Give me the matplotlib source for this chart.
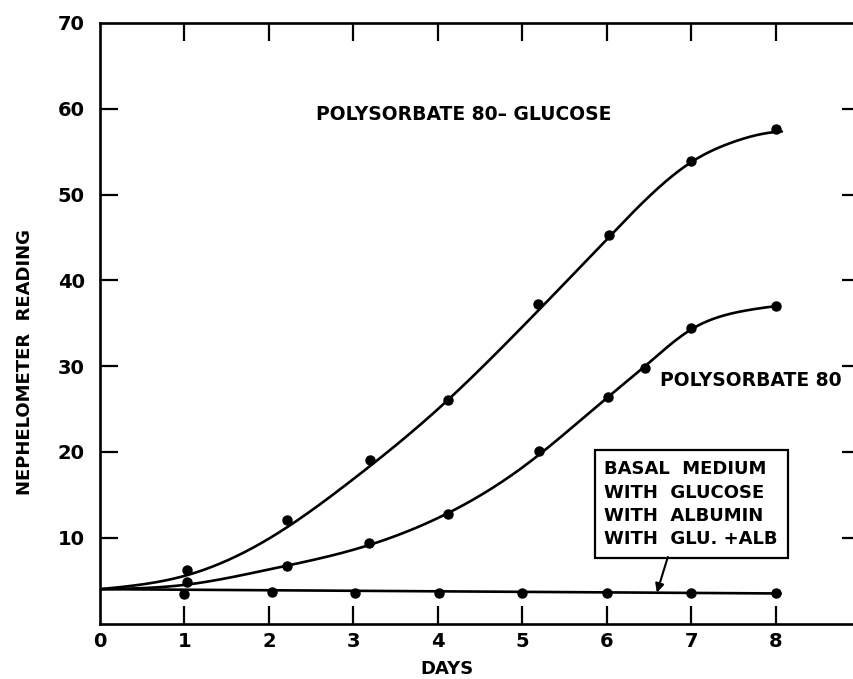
import numpy as np
import matplotlib
matplotlib.use("Agg")
import matplotlib.pyplot as plt

# ---- data ----
glu_days = [1.03, 2.21, 3.2, 4.12, 5.18, 6.02, 7.0, 8.0]
glu_vals = [6.2, 12.1, 19.1, 26.1, 37.3, 45.3, 53.9, 57.6]

ps_days = [1.03, 2.21, 3.18, 4.12, 5.2, 6.01, 6.45, 7.0, 8.0]
ps_vals = [4.8, 6.7, 9.35, 12.8, 20.1, 26.4, 29.8, 34.5, 37.0]

basal_days = [1.0, 2.03, 3.02, 4.01, 5.0, 6.0, 7.0, 8.0]
basal_vals = [3.4, 3.65, 3.5, 3.55, 3.55, 3.55, 3.55, 3.5]

# fitted curves as drawn
glu_curve_days = [0, 1, 2, 3, 4, 5, 6, 7, 7.5, 8.0, 8.07]
glu_curve = [4.0, 5.55, 9.9, 16.85, 25.0, 34.6, 44.8, 53.8, 56.15, 57.3, 57.35]
ps_curve_days = [0, 1, 2, 3, 4, 5, 6, 6.45, 7, 7.5, 8.0]
ps_curve = [4.0, 4.5, 6.3, 8.6, 12.3, 18.2, 26.3, 30.0, 34.3, 36.2, 37.0]
basal_line_days = [0, 8.05]
basal_line = [4.0, 3.5]

xticks = [0, 1, 2, 3, 4, 5, 6, 7, 8]
xticklabels = ["0", "1", "2", "3", "4", "5", "6", "7", "8"]
yticks = [10, 20, 30, 40, 50, 60, 70]
yticklabels = ["10", "20", "30", "40", "50", "60", "70"]


def natural_spline(x, y, n=500):
    x = np.asarray(x, float)
    y = np.asarray(y, float)
    m = len(x)
    h = np.diff(x)
    A = np.zeros((m, m))
    b = np.zeros(m)
    A[0, 0] = 1
    A[-1, -1] = 1
    for i in range(1, m - 1):
        A[i, i - 1] = h[i - 1]
        A[i, i] = 2 * (h[i - 1] + h[i])
        A[i, i + 1] = h[i]
        b[i] = 3 * ((y[i + 1] - y[i]) / h[i] - (y[i] - y[i - 1]) / h[i - 1])
    c = np.linalg.solve(A, b)
    xs = np.linspace(x[0], x[-1], n)
    ys = np.empty_like(xs)
    for k, xv in enumerate(xs):
        i = min(np.searchsorted(x, xv, side="right") - 1, m - 2)
        dx = xv - x[i]
        bb = (y[i + 1] - y[i]) / h[i] - h[i] * (2 * c[i] + c[i + 1]) / 3
        d = (c[i + 1] - c[i]) / (3 * h[i])
        ys[k] = y[i] + bb * dx + c[i] * dx ** 2 + d * dx ** 3
    return xs, ys


plt.rcParams["font.family"] = ["DejaVu Sans"]
plt.rcParams["font.weight"] = "bold"

fig = plt.figure(figsize=(8.54, 6.79), dpi=100)
ax = fig.add_axes([100 / 854, 1 - 623.5 / 679, 760.5 / 854, 600.5 / 679])

lw = 1.9
for cx, cy in [(glu_curve_days, glu_curve), (ps_curve_days, ps_curve)]:
    xs, ys = natural_spline(cx, cy)
    ax.plot(xs, ys, color="black", lw=lw, solid_capstyle="round")
ax.plot(basal_line_days, basal_line, color="black", lw=lw)

ms = 6.5
ax.plot(glu_days, glu_vals, "o", color="black", ms=ms)
ax.plot(ps_days, ps_vals, "o", color="black", ms=ms)
ax.plot(basal_days, basal_vals, "o", color="black", ms=ms)

ax.set_xlim(0, 9)
ax.set_ylim(0, 70)

for s in ["left", "bottom", "top"]:
    ax.spines[s].set_linewidth(1.9)
ax.spines["right"].set_visible(False)

ax.set_xticks(xticks)
ax.set_xticklabels(xticklabels, fontsize=14, fontweight="bold")
ax.set_yticks(yticks)
ax.set_yticklabels(yticklabels, fontsize=14, fontweight="bold")
ax.tick_params(axis="both", direction="in", length=13, width=1.6,
               top=True, right=True)
ax.tick_params(axis="x", pad=6)
ax.tick_params(axis="y", pad=11)
for t in ax.yaxis.get_major_ticks():
    if t.get_loc() >= 70:
        t.tick1line.set_visible(False)
        t.tick2line.set_visible(False)
for t in ax.xaxis.get_major_ticks():
    if t.get_loc() <= 0:
        t.tick1line.set_visible(False)
        t.tick2line.set_visible(False)

ax.set_xlabel("DAYS", fontsize=13, fontweight="bold")
ax.set_ylabel("NEPHELOMETER  READING", fontsize=13, fontweight="bold")
ax.xaxis.set_label_coords((447 - 100) / 760.5, -(660 - 623.5) / 600.5)
ax.yaxis.set_label_coords(-(100 - 34) / 760.5, (623.5 - 362) / 600.5)

ax.text(2.56, 59.3, "POLYSORBATE 80\u2013 GLUCOSE", fontsize=13.5,
        fontweight="bold", ha="left", va="center")
ax.text(6.63, 28.3, "POLYSORBATE 80", fontsize=13.5,
        fontweight="bold", ha="left", va="center")

box_text = "BASAL  MEDIUM\nWITH  GLUCOSE\nWITH  ALBUMIN\nWITH  GLU. +ALB"
ax.text(5.97, 13.9, box_text, fontsize=13, fontweight="bold",
        ha="left", va="center", linespacing=1.38,
        bbox=dict(boxstyle="square,pad=0.55", fc="white", ec="black", lw=1.6))

ax.annotate("", xy=(6.59, 3.6), xytext=(6.72, 7.75),
            arrowprops=dict(arrowstyle="-|>", color="black", lw=1.5,
                            mutation_scale=13, shrinkA=0, shrinkB=0))

fig.savefig("out.png", dpi=100)
